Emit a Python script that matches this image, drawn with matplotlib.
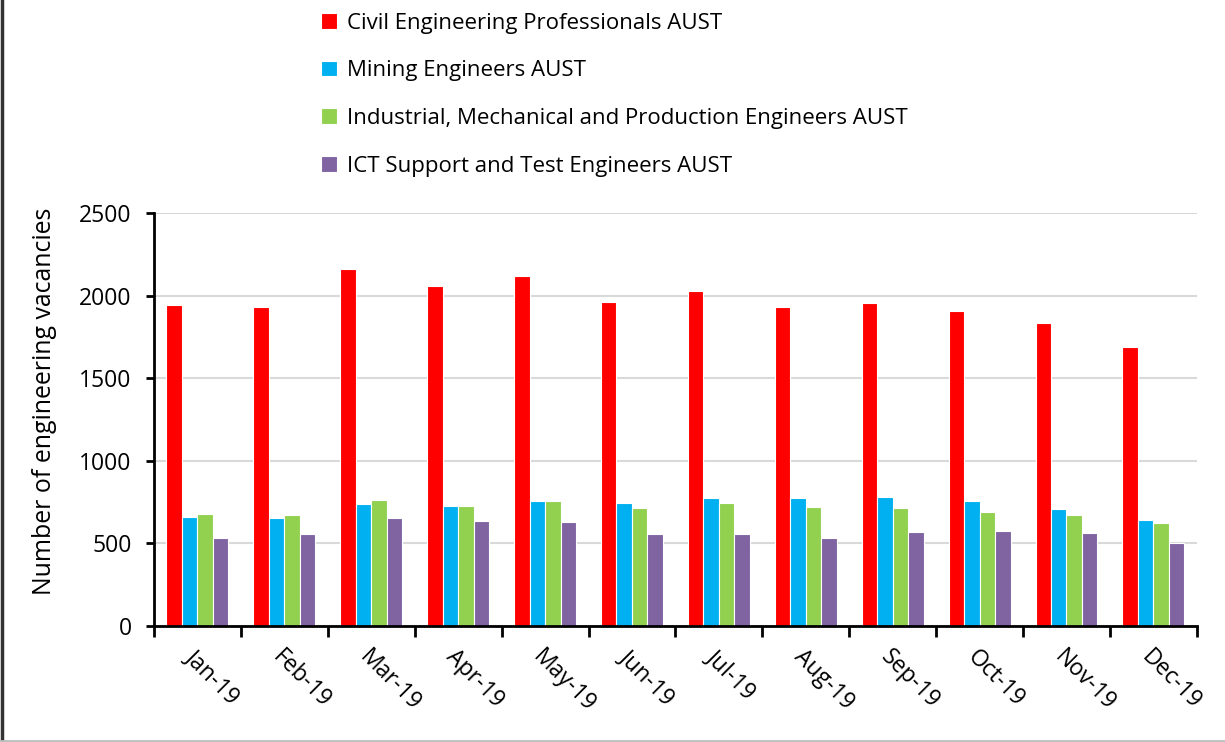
import matplotlib.pyplot as plt
import numpy as np
from matplotlib.lines import Line2D

plt.rcParams['font.family'] = ['Open Sans', 'DejaVu Sans']

# datos
months = ['Jan-19', 'Feb-19', 'Mar-19', 'Apr-19', 'May-19', 'Jun-19',
          'Jul-19', 'Aug-19', 'Sep-19', 'Oct-19', 'Nov-19', 'Dec-19']
civil = [1943, 1929, 2161, 2058, 2119, 1959, 2030, 1931, 1957, 1905, 1834, 1691]
mining = [662, 654, 738, 726, 757, 743, 775, 773, 781, 755, 710, 640]
industrial = [676, 672, 763, 726, 757, 714, 745, 720, 716, 690, 672, 625]
ict = [531, 555, 656, 638, 632, 559, 557, 531, 567, 575, 561, 502]

series = [civil, mining, industrial, ict]
names = ['Civil Engineering Professionals AUST',
         'Mining Engineers AUST',
         'Industrial, Mechanical and Production Engineers AUST',
         'ICT Support and Test Engineers AUST']
colors = ['#FF0000', '#00B0F0', '#92D050', '#8064A2']

fig = plt.figure(figsize=(12.25, 7.42), dpi=100)
ax = fig.add_axes([0.1257, 0.1563, 0.977 - 0.1257, 0.7129 - 0.1563])

x = np.arange(len(months))
slot = 0.178
for i, (vals, c, n) in enumerate(zip(series, colors, names)):
    ax.bar(x + (i - 1.5) * slot, vals, width=slot, color=c, label=n,
           edgecolor='white', linewidth=0.8, zorder=2)

ax.set_xlim(-0.5, len(months) - 0.5)
ax.set_ylim(0, 2500)
ax.set_yticks(np.arange(0, 2501, 500))
ax.yaxis.grid(True, color='#D9D9D9', linewidth=1.5, zorder=0)
ax.set_axisbelow(True)

ax.set_xticks(x)
ax.set_xticklabels(months, rotation=-45, ha='left', va='top',
                   rotation_mode='anchor', fontsize=16.5)
ax.set_xticks(np.arange(-0.5, len(months)), minor=True)
ax.tick_params(axis='x', which='major', length=0, pad=14)
ax.tick_params(axis='x', which='minor', length=8, width=2)
ax.tick_params(axis='y', length=6, width=2, labelsize=16.5, pad=10)

for s in ['top', 'right']:
    ax.spines[s].set_visible(False)
for s in ['left', 'bottom']:
    ax.spines[s].set_linewidth(2)

ax.set_ylabel('Number of engineering vacancies', fontsize=17.9)
ax.yaxis.set_label_coords(-0.093, 0.545)

fig.legend(loc='upper left', bbox_to_anchor=(0.246, 1.01), frameon=False,
           fontsize=16, handlelength=0.7, handleheight=0.7,
           handletextpad=0.45, labelspacing=1.2)

# marco de la figura
fig.add_artist(Line2D([0.002, 0.002], [0, 1], color='#333333', linewidth=2.5,
                      transform=fig.transFigure))
fig.add_artist(Line2D([0, 1], [0.002, 0.002], color='#BFBFBF', linewidth=2,
                      transform=fig.transFigure))

fig.savefig('out.png', dpi=100)
